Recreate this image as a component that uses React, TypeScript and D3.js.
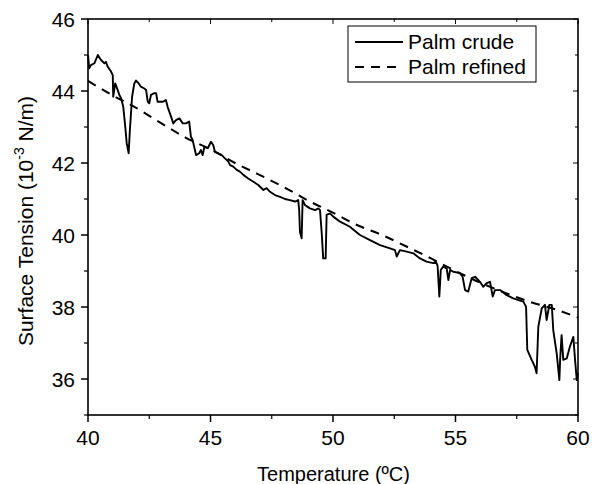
import React from "react";
import * as d3 from "d3";

const crudeT = [40.0,40.05,40.12,40.26,40.4,40.53,40.67,40.73,40.8,40.94,41.01,41.03,41.11,41.21,41.28,41.35,41.44,41.52,41.58,41.66,41.71,41.8,41.89,41.96,42.07,42.16,42.3,42.37,42.44,42.5,42.57,42.71,42.78,42.84,43.05,43.18,43.25,43.39,43.48,43.59,43.73,43.87,44.0,44.13,44.2,44.27,44.41,44.54,44.61,44.68,44.75,44.89,45.02,45.11,45.18,45.32,45.46,45.59,45.73,45.8,45.93,46.07,46.2,46.34,46.54,46.75,46.95,47.16,47.29,47.43,47.63,47.84,48.04,48.24,48.45,48.58,48.62,48.65,48.72,48.76,48.86,49.06,49.27,49.4,49.47,49.54,49.6,49.7,49.74,49.88,50.01,50.29,50.69,51.1,51.51,51.92,52.33,52.53,52.6,52.73,53.01,53.28,53.55,53.82,54.09,54.2,54.27,54.34,54.4,54.5,54.64,54.71,54.78,54.91,55.18,55.29,55.39,55.52,55.66,55.8,56.0,56.13,56.27,56.41,56.52,56.61,56.82,57.09,57.36,57.77,57.88,57.93,58.11,58.24,58.31,58.38,58.52,58.65,58.72,58.83,58.93,58.99,59.13,59.24,59.27,59.33,59.4,59.54,59.67,59.81,59.88,59.95,60.0];
const crudeST = [45.0,44.63,44.72,44.77,45.0,44.86,44.77,44.81,44.68,44.54,44.44,43.84,44.21,44.03,43.89,43.8,43.56,43.01,42.55,42.27,42.92,43.84,44.21,44.29,44.21,44.12,44.07,44.03,43.7,43.66,43.89,43.94,43.94,43.7,43.7,43.75,43.56,43.29,43.1,43.19,43.24,43.1,43.1,43.15,42.73,42.64,42.22,42.27,42.36,42.22,42.45,42.41,42.59,42.5,42.31,42.27,42.22,42.13,42.04,41.94,41.9,41.81,41.76,41.67,41.57,41.48,41.39,41.25,41.3,41.2,41.11,41.06,41.0,40.97,40.93,40.97,40.69,40.09,39.91,40.97,40.83,40.74,40.69,40.74,40.69,40.05,39.35,39.35,40.56,40.6,40.51,40.37,40.23,40.0,39.86,39.72,39.63,39.58,39.4,39.58,39.54,39.49,39.35,39.26,39.22,39.26,39.14,38.29,39.03,39.12,39.07,38.75,39.03,38.98,38.94,38.84,38.47,38.43,38.8,38.84,38.7,38.56,38.66,38.7,38.29,38.47,38.47,38.33,38.24,38.15,38.01,36.81,36.53,36.34,36.16,37.45,37.96,38.06,37.64,38.06,38.06,37.36,36.71,35.97,36.53,37.22,36.53,36.57,36.9,37.17,36.53,35.97,36.17];

const refinedT = [40,41,42,43,44,45,46,47,48,49,50,51,52,53,54,55,56,57,58,59,60];
const refinedST = [44.28,43.88,43.52,43.1,42.7,42.38,42.0,41.67,41.33,40.95,40.62,40.27,40.0,39.68,39.35,39.0,38.68,38.4,38.15,37.95,37.71];

const xMajor = [40,45,50,55,60];
const xMinor = [42.5,47.5,52.5,57.5];
const yMajor = [36,38,40,42,44,46];
const yMinor = [35,37,39,41,43,45];

const seriesNames = ["Palm crude", "Palm refined"];

const W = 592, H = 484;
const L = 88, R = 578, T = 19, B = 415;
const FONT = "'Liberation Sans', Arial, sans-serif";

export default function App() {
  const x = d3.scaleLinear().domain([40, 60]).range([L, R]);
  const y = d3.scaleLinear().domain([35, 46]).range([B, T]);
  const line = d3.line<[number, number]>().x(d => x(d[0])).y(d => y(d[1]));
  const crude = crudeT.map((t, i) => [t, crudeST[i]] as [number, number]);
  const refined = refinedT.map((t, i) => [t, refinedST[i]] as [number, number]);
  const smooth = d3.line<[number, number]>().x(d => x(d[0])).y(d => y(d[1])).curve(d3.curveMonotoneX);

  return (
    <svg width={W} height={H} style={{ position: "absolute", left: 0, top: 0, background: "#fff" }}>
      <rect x={0} y={0} width={W} height={H} fill="#fff" />
      <path d={smooth(refined) || ""} fill="none" stroke="#000" strokeWidth={2} strokeDasharray="9,7" />
      <path d={line(crude) || ""} fill="none" stroke="#000" strokeWidth={1.9} strokeLinejoin="round" />
      <rect x={L} y={T} width={R - L} height={B - T} fill="none" stroke="#000" strokeWidth={1.6} />
      {xMajor.map(v => (
        <g key={"xM" + v}>
          <line x1={x(v)} x2={x(v)} y1={B} y2={B + 7} stroke="#000" strokeWidth={1.5} />
          <line x1={x(v)} x2={x(v)} y1={T} y2={T + 5} stroke="#000" strokeWidth={1} />
          <text x={x(v)} y={B + 30} textAnchor="middle" fontFamily={FONT} fontSize={21}>{v}</text>
        </g>
      ))}
      {xMinor.map(v => (
        <g key={"xm" + v}>
          <line x1={x(v)} x2={x(v)} y1={B} y2={B + 4} stroke="#000" strokeWidth={1.2} />
          <line x1={x(v)} x2={x(v)} y1={T} y2={T + 3} stroke="#000" strokeWidth={1} />
        </g>
      ))}
      {yMajor.map(v => (
        <g key={"yM" + v}>
          <line x1={L - 7} x2={L} y1={y(v)} y2={y(v)} stroke="#000" strokeWidth={1.5} />
          <line x1={R - 5} x2={R} y1={y(v)} y2={y(v)} stroke="#000" strokeWidth={1} />
          <text x={L - 13} y={y(v) + 7.5} textAnchor="end" fontFamily={FONT} fontSize={21}>{v}</text>
        </g>
      ))}
      {yMinor.map(v => (
        <g key={"ym" + v}>
          <line x1={L - 4} x2={L} y1={y(v)} y2={y(v)} stroke="#000" strokeWidth={1.2} />
          <line x1={R - 3} x2={R} y1={y(v)} y2={y(v)} stroke="#000" strokeWidth={1} />
        </g>
      ))}
      <text x={(L + R) / 2 + 0.5} y={481} textAnchor="middle" fontFamily={FONT} fontSize={20}>Temperature (ºC)</text>
      <text transform={`translate(33,221) rotate(-90)`} textAnchor="middle" fontFamily={FONT} fontSize={21}>
        Surface Tension (10<tspan dy={-9} fontSize={14}>-3</tspan><tspan dy={9}> N/m)</tspan>
      </text>
      <g>
        <rect x={348} y={26} width={188} height={56} fill="#fff" stroke="#000" strokeWidth={1} />
        <line x1={355} x2={403} y1={42} y2={42} stroke="#000" strokeWidth={1.8} />
        <line x1={355} x2={403} y1={67} y2={67} stroke="#000" strokeWidth={2} strokeDasharray="9,7" />
        <text x={408} y={48.5} fontFamily={FONT} fontSize={21}>{seriesNames[0]}</text>
        <text x={408} y={73.5} fontFamily={FONT} fontSize={21}>{seriesNames[1]}</text>
      </g>
    </svg>
  );
}
